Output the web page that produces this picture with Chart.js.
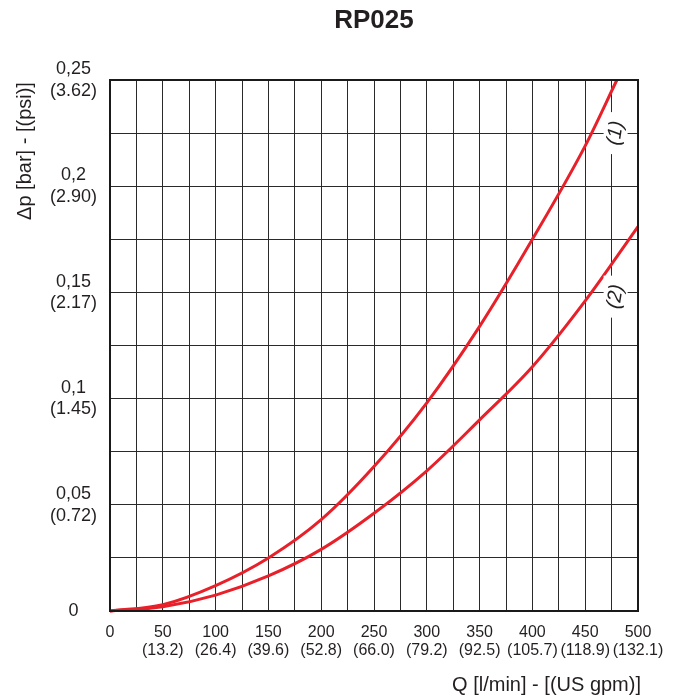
<!DOCTYPE html>
<html><head><meta charset="utf-8">
<script src="https://cdn.jsdelivr.net/npm/chart.js@4.4.0/dist/chart.umd.min.js"></script>
<style>html,body{margin:0;padding:0;background:#fff}#wrap{width:681px;height:698px}</style>
</head><body><div id="wrap"><canvas id="c" width="681" height="698"></canvas></div>
<script>
const flowQ = [0, 50, 100, 150, 200, 250, 300, 350, 400, 450, 480];
const curve1 = [0, 0.003, 0.012, 0.025, 0.043, 0.068, 0.098, 0.134, 0.175, 0.219, 0.25];
const flowQ2 = [0, 50, 100, 150, 200, 250, 300, 350, 400, 450, 500];
const curve2 = [0, 0.002, 0.0075, 0.0165, 0.029, 0.046, 0.066, 0.090, 0.115, 0.146, 0.181];
const xTickLabels = ['0', ['50','(13.2)'], ['100','(26.4)'], ['150','(39.6)'], ['200','(52.8)'], ['250','(66.0)'], ['300','(79.2)'], ['350','(92.5)'], ['400','(105.7)'], ['450','(118.9)'], ['500','(132.1)']];
const yTickLabels = ['0', ['0,05','(0.72)'], ['0,1','(1.45)'], ['0,15','(2.17)'], ['0,2','(2.90)'], ['0,25','(3.62)']];
const curveNames = ['(1)', '(2)'];
const curveLabelPos = [[475, 0.225], [475, 0.148]];
const titleText = 'RP025';
const xTitle = 'Q [l/min] - [(US gpm)]';
const yTitle = 'Δp [bar] - [(psi)]';

const FONT = '"Liberation Sans", Arial, sans-serif';
const TXT = '#231f20';
const RED = '#e8202a';

const deco = {
  id: 'deco',
  afterDraw(chart) {
    const {ctx, chartArea: a} = chart;
    ctx.save();
    ctx.strokeStyle = '#1a1a1a'; ctx.lineWidth = 2;
    ctx.strokeRect(a.left, a.top, a.right - a.left, a.bottom - a.top);
    ctx.fillStyle = TXT;
    ctx.font = 'bold 26px ' + FONT;
    ctx.textAlign = 'center'; ctx.textBaseline = 'middle';
    ctx.fillText(titleText, (a.left + a.right) / 2, 21);
    ctx.font = '20px ' + FONT;
    ctx.textAlign = 'right';
    ctx.fillText(xTitle, 641, 685);
    ctx.save();
    ctx.translate(25, 151);
    ctx.rotate(-Math.PI / 2);
    ctx.textAlign = 'center';
    ctx.fillText(yTitle, 0, 0);
    ctx.restore();
    ctx.restore();
  },
  afterDatasetsDraw(chart) {
    const {ctx, scales} = chart;
    ctx.save();
    curveNames.forEach((n, i) => {
      const x = scales.x.getPixelForValue(curveLabelPos[i][0]) + 4;
      const y = scales.y.getPixelForValue(curveLabelPos[i][1]);
      ctx.fillStyle = '#fff';
      ctx.fillRect(x - 12, y - 21, 24, 42);
      ctx.save();
      ctx.translate(x, y);
      ctx.rotate(-Math.PI * 0.45);
      ctx.fillStyle = TXT;
      ctx.font = 'italic 20px ' + FONT;
      ctx.textAlign = 'center'; ctx.textBaseline = 'middle';
      ctx.fillText(n, 0, 0);
      ctx.restore();
    });
    ctx.restore();
  }
};

new Chart(document.getElementById('c'), {
  type: 'scatter',
  data: {
    datasets: [
      { data: flowQ.map((q, i) => ({x: q, y: curve1[i]})), showLine: true, borderColor: RED, borderWidth: 3, pointRadius: 0, cubicInterpolationMode: 'monotone', fill: false, clip: false },
      { data: flowQ2.map((q, i) => ({x: q, y: curve2[i]})), showLine: true, borderColor: RED, borderWidth: 3, pointRadius: 0, cubicInterpolationMode: 'monotone', fill: false, clip: false }
    ]
  },
  options: {
    responsive: false, animation: false, devicePixelRatio: 1,
    layout: { padding: { top: 80, right: 43, left: 0, bottom: 0 } },
    plugins: { legend: { display: false }, tooltip: { enabled: false } },
    scales: {
      x: {
        type: 'linear', min: 0, max: 500,
        afterFit(s) { s.height = 87; },
        grid: { color: '#2a2a2a', lineWidth: 1, drawTicks: false },
        border: { color: '#1a1a1a', width: 2 },
        ticks: {
          stepSize: 25, autoSkip: false, maxRotation: 0, padding: 13,
          color: TXT, font: { family: FONT, size: 16, lineHeight: 1.1 },
          callback: (v) => (v % 50 === 0 ? xTickLabels[v / 50] : '')
        }
      },
      y: {
        type: 'linear', min: 0, max: 0.25,
        afterFit(s) { s.width = 110; },
        grid: { color: '#2a2a2a', lineWidth: 1, drawTicks: false },
        border: { color: '#1a1a1a', width: 2 },
        ticks: {
          stepSize: 0.025, autoSkip: false, crossAlign: 'center', padding: 13,
          color: TXT, font: { family: FONT, size: 18, lineHeight: 1.2 },
          callback: (v, idx) => (idx % 2 === 0 ? yTickLabels[idx / 2] : '')
        }
      }
    }
  },
  plugins: [deco]
});
</script></body></html>
